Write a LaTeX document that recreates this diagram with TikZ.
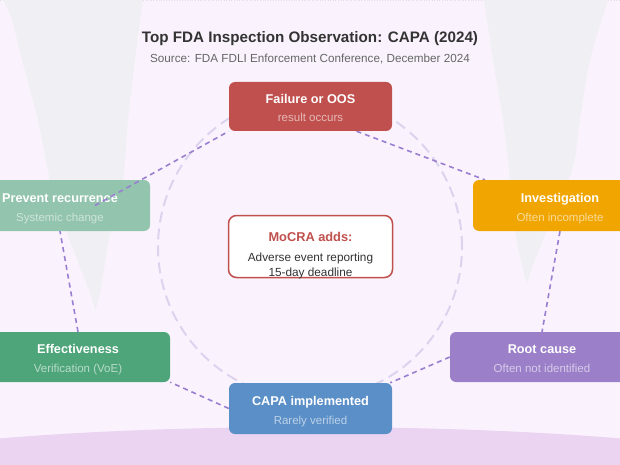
\documentclass[tikz,border=0pt]{standalone}
\usepackage{fontspec}
\setmainfont{Liberation Sans}
\usetikzlibrary{calc}
\definecolor{bg}{HTML}{FAF3FD}
\definecolor{cfun}{HTML}{F0F0F4}
\definecolor{cell}{HTML}{EAD4F1}
\definecolor{cring}{HTML}{DCD4EE}
\definecolor{cline}{HTML}{9A7FD1}
\definecolor{cfail}{HTML}{C0504D}
\definecolor{cinv}{HTML}{F0A500}
\definecolor{croot}{HTML}{9B7FC8}
\definecolor{ccapa}{HTML}{5B8FC7}
\definecolor{ceff}{HTML}{4EA57A}
\definecolor{cprev}{HTML}{93C4AE}
\definecolor{ctitle}{HTML}{333333}
\definecolor{csub}{HTML}{666666}
\pgfdeclarelayer{back}
\pgfsetlayers{back,main}
\begin{document}
\begin{tikzpicture}[x=1pt,y=-1pt,
  box/.style={rounded corners=6pt, inner sep=0pt, draw=none},
  ttl/.style={anchor=base, text=white, font=\fontsize{12.7}{15}\selectfont\bfseries, inner sep=0pt},
  sub/.style={anchor=base, font=\fontsize{11.5}{14}\selectfont, inner sep=0pt},
  conn/.style={draw=cline, line width=1.6pt, dash pattern=on 5pt off 4pt},
  ring/.style={draw=cring, line width=2pt, dash pattern=on 11pt off 6pt}]
\useasboundingbox (0,0) rectangle (620,465);

% title
\node[anchor=base, inner sep=0pt, text=ctitle, font=\fontsize{15.2}{18}\selectfont\bfseries] (title) at (310,42.5) {Top FDA Inspection Observation: CAPA (2024)};
\node[anchor=base, inner sep=0pt, text=csub, font=\fontsize{11.7}{14}\selectfont] (subtitle) at (310,62.5) {Source: FDA FDLI Enforcement Conference, December 2024};

% boxes
\node[box, fill=cfail, minimum width=163pt, minimum height=49pt] (fail) at (310.5,106.5) {};
\node[ttl] (failT) at ([yshift=3.3pt]fail.center) {Failure or OOS};
\node[sub, text=white!60!cfail] (failS) at ([yshift=-15.5pt]fail.center) {result occurs};

\node[box, fill=cinv, minimum width=174pt, minimum height=51pt] (inv) at (560,205.5) {};
\node[ttl] (invT) at ([yshift=3.3pt]inv.center) {Investigation};
\node[sub, text=white!60!cinv] (invS) at ([yshift=-15.5pt]inv.center) {Often incomplete};

\node[box, fill=croot, minimum width=184pt, minimum height=50pt] (root) at (542,357) {};
\node[ttl] (rootT) at ([yshift=3.3pt]root.center) {Root cause};
\node[sub, text=white!60!croot] (rootS) at ([yshift=-15.5pt]root.center) {Often not identified};

\node[box, fill=ccapa, minimum width=163pt, minimum height=51pt] (capa) at (310.5,408.5) {};
\node[ttl] (capaT) at ([yshift=3.3pt]capa.center) {CAPA implemented};
\node[sub, text=white!60!ccapa] (capaS) at ([yshift=-15.5pt]capa.center) {Rarely verified};

\node[box, fill=ceff, minimum width=184pt, minimum height=50pt] (eff) at (78,357) {};
\node[ttl] (effT) at ([yshift=3.3pt]eff.center) {Effectiveness};
\node[sub, text=white!60!ceff] (effS) at ([yshift=-15.5pt]eff.center) {Verification (VoE)};

\node[box, fill=cprev, minimum width=180pt, minimum height=51pt] (prev) at (60,205.5) {};
\node[ttl] (prevT) at ([yshift=3.3pt]prev.center) {Prevent recurrence};
\node[sub, text=white!55!cprev] (prevS) at ([yshift=-15.5pt]prev.center) {Systemic change};

% centre box
\node[box, fill=white, draw=cfail, line width=1.5pt, rounded corners=8pt, minimum width=164pt, minimum height=62pt] (moc) at (310.5,246.5) {};
\node[anchor=base, inner sep=0pt, text=cfail, font=\fontsize{12.8}{15}\selectfont\bfseries] (mocT) at (310.5,241) {MoCRA adds:};
\node[anchor=base, inner sep=0pt, text=ctitle, font=\fontsize{11.8}{14}\selectfont] (mocA) at (310.5,261) {Adverse event reporting};
\node[anchor=base, inner sep=0pt, text=ctitle, font=\fontsize{11.8}{14}\selectfont] (mocB) at (310.5,276) {15-day deadline};

% connector drawn over the translucent box
\coordinate (prevP) at ([xshift=35pt]prev.center);
\draw[conn] (prevP) -- (fail.south west);

\begin{pgfonlayer}{back}
\fill[bg] (0,0) rectangle (620,465);
\draw[gray!25, line width=0.6pt, dotted] (0,0.8) -- (620,0.8);
\fill[cfun] plot[smooth] coordinates {(3,0) (12,20) (22,60) (38,120) (50,180) (67,233) (90,293) (95,310)}
  -- plot[smooth] coordinates {(95,310) (100,293) (110,233) (123,180) (128,120) (135,60) (140,20) (143,0)} -- cycle;
\fill[cfun] plot[smooth] coordinates {(484,0) (493,60) (503,120) (509,170) (516,235) (522,265) (527,283)}
  -- plot[smooth] coordinates {(527,283) (533,265) (545,235) (572,170) (580,120) (590,60) (608,0)} -- cycle;
\fill[cell] (310,480) ellipse [x radius=500pt, y radius=53pt];
\draw[ring] (310,247) circle [radius=152pt];
\coordinate (failP) at ([xshift=46pt]fail.south);
\coordinate (invP) at ([xshift=12pt]inv.north west);
\coordinate (capaP) at ([xshift=-2pt]capa.north east);
\draw[conn] (failP) -- (invP);
\draw[conn] (inv.south) -- (root.north);
\draw[conn] (root.west) -- (capaP);
\draw[conn] (capa.west) -- (eff.south east);
\draw[conn] (eff.north) -- (prev.south);
\end{pgfonlayer}
\end{tikzpicture}
\end{document}
